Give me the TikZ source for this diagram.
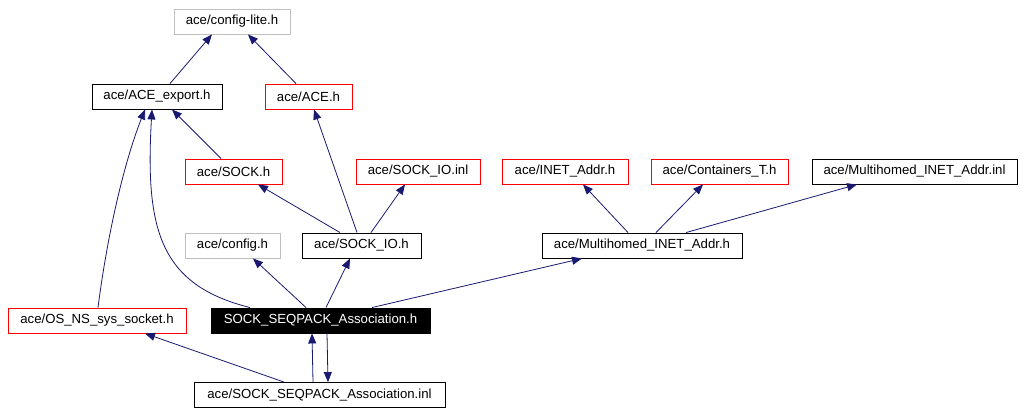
\documentclass[tikz,border=0pt]{standalone}
\usepackage{fontspec}
\setmainfont{Liberation Sans}
\usetikzlibrary{arrows.meta}
\definecolor{edgeblue}{HTML}{191970}
\definecolor{boxgrey}{HTML}{BFBFBF}
\begin{document}
\begin{tikzpicture}[x=1pt,y=-1pt,
		file/.style={draw=black,line width=0.9pt,minimum height=25pt,inner sep=0pt,font=\fontsize{13.2}{15}\selectfont},
		redfile/.style={file,draw=red},
		greyfile/.style={file,draw=boxgrey},
		dep/.style={draw=edgeblue,line width=0.8pt,-{Triangle[length=10pt,width=8pt]}}]
		\useasboundingbox (0,0) rectangle (1027,415);
		\node[greyfile,minimum width=116pt] (cfglite) at (232,21.5) {ace/config-lite.h};
		\node[file,minimum width=130pt] (export) at (157,96.5) {ace/ACE\_export.h};
		\node[redfile,minimum width=87pt] (ace) at (308.5,96.5) {ace/ACE.h};
		\node[redfile,minimum width=97pt] (sock) at (233.5,171.5) {ace/SOCK.h};
		\node[redfile,minimum width=124pt] (sockioinl) at (418,171.5) {ace/SOCK\_IO.inl};
		\node[redfile,minimum width=126pt] (inet) at (565,171.5) {ace/INET\_Addr.h};
		\node[redfile,minimum width=137pt] (cont) at (719.5,171.5) {ace/Containers\_T.h};
		\node[file,minimum width=205pt] (mhinl) at (914.5,171.5) {ace/Multihomed\_INET\_Addr.inl};
		\node[greyfile,minimum width=95pt] (cfg) at (232.5,245.5) {ace/config.h};
		\node[file,minimum width=119pt] (sockio) at (361.5,245.5) {ace/SOCK\_IO.h};
		\node[file,minimum width=200pt] (mh) at (642,245.5) {ace/Multihomed\_INET\_Addr.h};
		\node[redfile,minimum width=178pt] (ossock) at (97,320.5) {ace/OS\_NS\_sys\_socket.h};
		\node[file,fill=black,text=white,minimum width=219pt] (seqh) at (320.5,320.5) {SOCK\_SEQPACK\_Association.h};
		\node[file,minimum width=251pt] (seqinl) at (319.5,395) {ace/SOCK\_SEQPACK\_Association.inl};
		
		\draw[dep] ([xshift=13pt]export.north) -- ([xshift=-20pt]cfglite.south);
		\draw[dep] ([xshift=-12.5pt]ace.north) -- ([xshift=16pt]cfglite.south);
		\draw[dep] ([xshift=-12.5pt]sock.north) -- ([xshift=15pt]export.south);
		\draw[dep] ([xshift=-21.5pt]sockio.north) -- ([xshift=24.5pt]sock.south);
		\draw[dep] ([xshift=-4.5pt]sockio.north) -- ([xshift=5.5pt]ace.south);
		\draw[dep] ([xshift=9.5pt]sockio.north) -- ([xshift=-13pt]sockioinl.south);
		\draw[dep] ([xshift=-14pt]mh.north) -- ([xshift=18pt]inet.south);
		\draw[dep] ([xshift=14pt]mh.north) -- ([xshift=-16.5pt]cont.south);
		\draw[dep] ([xshift=44pt]mh.north) -- ([xshift=-57.5pt]mhinl.south);
		\draw[dep] ([xshift=-14.5pt]seqh.north) -- ([xshift=20.5pt]cfg.south);
		\draw[dep] ([xshift=5.5pt]seqh.north) -- ([xshift=-11.5pt]sockio.south);
		\draw[dep] ([xshift=51.5pt]seqh.north) -- ([xshift=-60pt]mh.south);
		\draw[dep] ([xshift=-70.5pt]seqh.north) .. controls (160,285) and (145,230) .. ([xshift=-5pt]export.south);
		\draw[dep] ([xshift=1pt]ossock.north) .. controls (108,230) and (125,160) .. ([xshift=-12pt]export.south);
		\draw[dep] ([xshift=-35.5pt]seqinl.north) -- ([xshift=48pt]ossock.south);
		\draw[dep] ([xshift=-6.5pt]seqinl.north) -- ([xshift=-8.5pt]seqh.south);
		\draw[dep] ([xshift=6.5pt]seqh.south) -- ([xshift=8.5pt]seqinl.north);
		
	\end{tikzpicture}
\end{document}
